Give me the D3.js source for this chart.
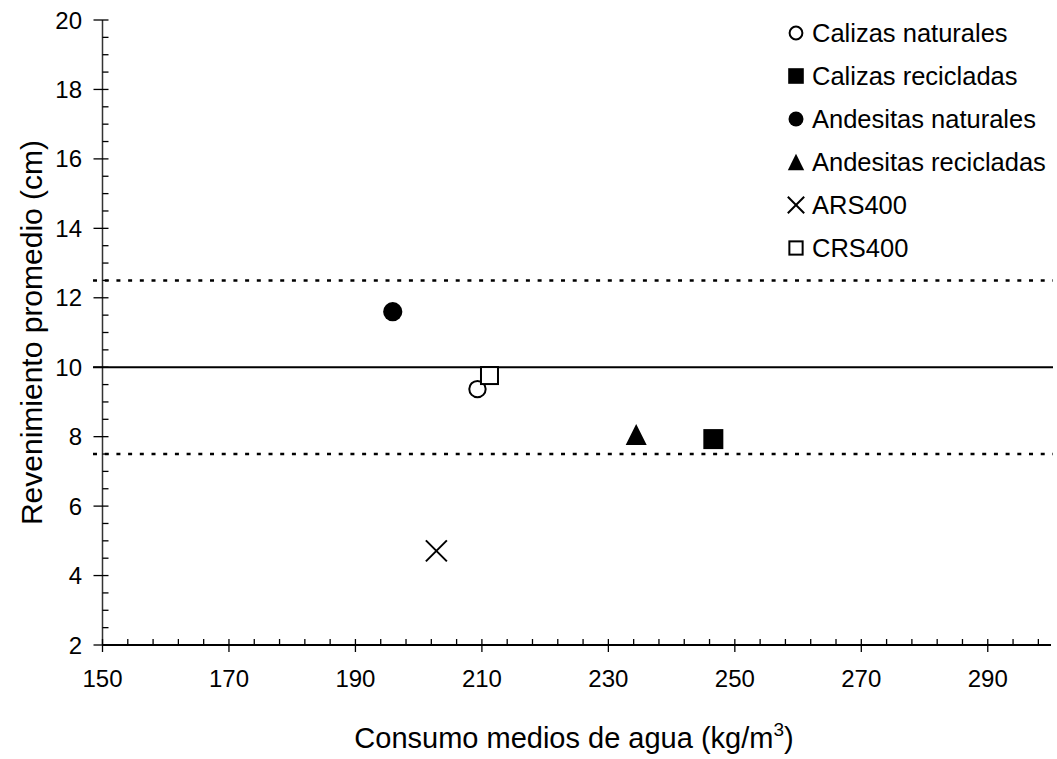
<!DOCTYPE html>
<html>
<head>
<meta charset="utf-8">
<script src="https://cdn.jsdelivr.net/npm/d3@7"></script>
<style>
  body { margin: 0; background: #fff; }
  text { font-family: "Liberation Sans", Arial, sans-serif; fill: #000; }
</style>
</head>
<body>
<div id="chart"></div>
<script>
// revenimiento vs consumo de agua
let series = ['Calizas naturales', 'Calizas recicladas', 'Andesitas naturales', 'Andesitas recicladas', 'ARS400', 'CRS400'];
let symbols = ['circleOpen', 'squareFilled', 'circleFilled', 'triangleFilled', 'cross', 'squareOpen'];
let waterValues = [209.3, 246.6, 195.9, 234.4, 202.8, 211.2];
let slumpValues = [9.37, 7.93, 11.6, 8.06, 4.71, 9.76];
let refLevels = [12.5, 10, 7.5];
let refStyles = ['dot', 'solid', 'dot'];
let xTicks = [150, 170, 190, 210, 230, 250, 270, 290];
let yTicks = [2, 4, 6, 8, 10, 12, 14, 16, 18, 20];

let svgAttr = {width: 1057, height: 759};
let marge = {top: 20, bottom: 114, left: 102.5, right: 6};

let svg = d3.select('#chart').append('svg').attr('width', svgAttr.width).attr('height', svgAttr.height);

let xScale = d3.scaleLinear().domain([150, 300]).range([marge.left, svgAttr.width - marge.right]);
let yScale = d3.scaleLinear().domain([2, 20]).range([svgAttr.height - marge.bottom, marge.top]);

let x0 = xScale.range()[0], x1 = xScale.range()[1];
let y0 = yScale.range()[0], y1 = yScale.range()[1];

// minor ticks
let xMinor = d3.range(150, 300.01, 4).filter(v => (v - 150) % 20 !== 0);
let yMinor = d3.range(2, 20.01, 0.5).filter(v => v % 2 !== 0);

let axes = svg.append('g').attr('stroke', '#000');
axes.append('line').attr('x1', x0).attr('x2', x0).attr('y1', y1).attr('y2', y0).attr('stroke-width', 1.5).attr('stroke', '#333');
axes.append('line').attr('x1', x0).attr('x2', x1).attr('y1', y0).attr('y2', y0).attr('stroke-width', 2);

axes.selectAll('.xmaj').data(xTicks).enter().append('line')
  .attr('x1', d => xScale(d)).attr('x2', d => xScale(d))
  .attr('y1', y0 - 6).attr('y2', y0 + 7).attr('stroke-width', 1.3);
axes.selectAll('.xmin').data(xMinor).enter().append('line')
  .attr('x1', d => xScale(d)).attr('x2', d => xScale(d))
  .attr('y1', y0 - 6).attr('y2', y0).attr('stroke-width', 1.3);
axes.selectAll('.ymaj').data(yTicks).enter().append('line')
  .attr('x1', x0 - 9).attr('x2', x0 + 6)
  .attr('y1', d => yScale(d)).attr('y2', d => yScale(d)).attr('stroke-width', 1.3);
axes.selectAll('.ymin').data(yMinor).enter().append('line')
  .attr('x1', x0).attr('x2', x0 + 6)
  .attr('y1', d => yScale(d)).attr('y2', d => yScale(d)).attr('stroke-width', 1.3);

svg.selectAll('.xlab').data(xTicks).enter().append('text')
  .attr('x', d => xScale(d)).attr('y', y0 + 42)
  .attr('text-anchor', 'middle').attr('font-size', '24px').text(d => d);
svg.selectAll('.ylab').data(yTicks).enter().append('text')
  .attr('x', 82).attr('y', d => yScale(d) + 8.5)
  .attr('text-anchor', 'end').attr('font-size', '24px').text(d => d);

// reference lines
svg.selectAll('.ref').data(refLevels).enter().append('line')
  .attr('x1', xScale(148.5)).attr('x2', x1 + 2)
  .attr('y1', d => yScale(d)).attr('y2', d => yScale(d))
  .attr('stroke', '#000')
  .attr('stroke-width', (d, i) => refStyles[i] === 'dot' ? 2.5 : 2)
  .attr('stroke-dasharray', (d, i) => refStyles[i] === 'dot' ? '4,7.7' : null);

// markers, k = scale
function drawMarker(sel, type, k) {
  if (type === 'circleOpen') {
    sel.append('circle').attr('r', 8.2 * k).attr('fill', '#fff').attr('stroke', '#000').attr('stroke-width', 2);
  } else if (type === 'circleFilled') {
    sel.append('circle').attr('r', 9.6 * k).attr('fill', '#000');
  } else if (type === 'squareFilled') {
    let s = 20 * k;
    sel.append('rect').attr('x', -s / 2).attr('y', -s / 2).attr('width', s).attr('height', s).attr('fill', '#000');
  } else if (type === 'squareOpen') {
    let s = 17 * k;
    sel.append('rect').attr('x', -s / 2).attr('y', -s / 2).attr('width', s).attr('height', s)
      .attr('fill', '#fff').attr('stroke', '#000').attr('stroke-width', 2);
  } else if (type === 'triangleFilled') {
    let s = 21 * k;
    sel.append('path').attr('d', 'M0,' + (-s / 2) + 'L' + (s / 2) + ',' + (s / 2) + 'L' + (-s / 2) + ',' + (s / 2) + 'Z').attr('fill', '#000');
  } else if (type === 'cross') {
    let s = 21 * k;
    sel.append('path').attr('d', 'M' + (-s / 2) + ',' + (-s / 2) + 'L' + (s / 2) + ',' + (s / 2) + 'M' + (s / 2) + ',' + (-s / 2) + 'L' + (-s / 2) + ',' + (s / 2))
      .attr('stroke', '#000').attr('stroke-width', 2).attr('fill', 'none');
  }
}

let points = svg.selectAll('.pt').data(series).enter().append('g')
  .attr('transform', (d, i) => 'translate(' + xScale(waterValues[i]) + ',' + yScale(slumpValues[i]) + ')');
points.each(function (d, i) { drawMarker(d3.select(this), symbols[i], 1); });

// legend
let legend = svg.append('g').attr('transform', 'translate(796,33)');
let rows = legend.selectAll('.row').data(series).enter().append('g')
  .attr('transform', (d, i) => 'translate(0,' + (i * 43) + ')');
rows.each(function (d, i) { drawMarker(d3.select(this), symbols[i], 0.78); });
rows.append('text').attr('x', 16).attr('y', 9).attr('font-size', '25.5px').text(d => d);

// axis titles
svg.append('text').attr('x', 574).attr('y', 748).attr('text-anchor', 'middle').attr('font-size', '29px')
  .html('Consumo medios de agua (kg/m<tspan dy="-12" font-size="19px">3</tspan><tspan dy="12">)</tspan>');
svg.append('text').attr('transform', 'translate(42,' + ((y0 + y1) / 2) + ') rotate(-90)')
  .attr('text-anchor', 'middle').attr('font-size', '30px').text('Revenimiento promedio (cm)');
</script>
</body>
</html>
